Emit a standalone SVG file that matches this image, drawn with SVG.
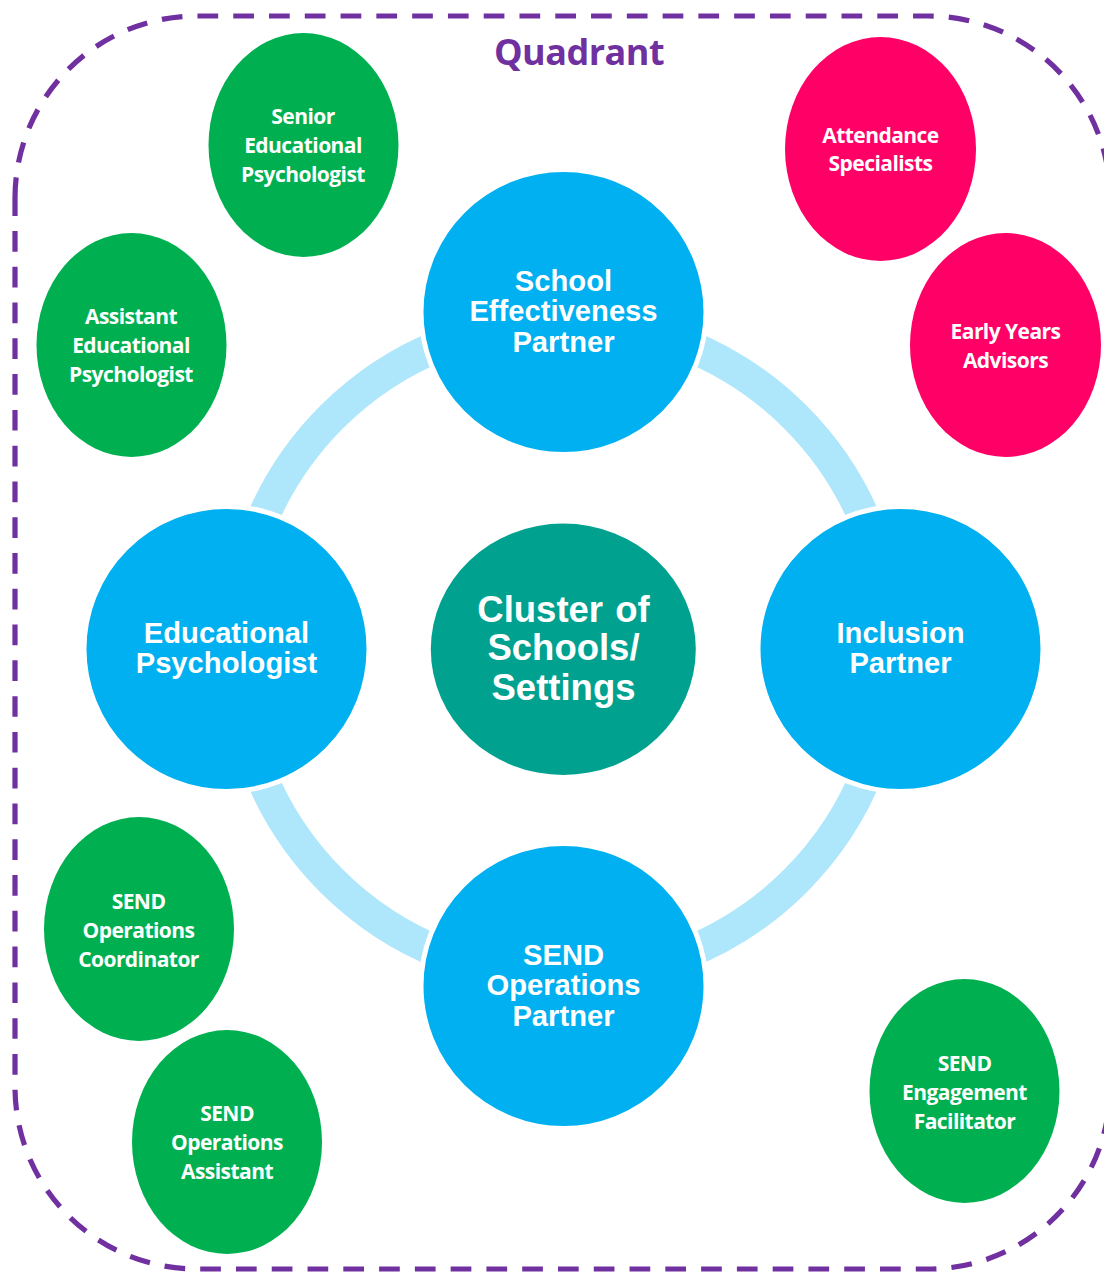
<svg xmlns="http://www.w3.org/2000/svg" width="1104" height="1273" viewBox="0 0 1104 1273">
<style>
.big{fill:#00B0F0;stroke:#fff;stroke-width:5}
.g{fill:#00B050}.p{fill:#FF0066}
text{fill:#fff;text-anchor:middle}
.a{font:700 29.2px "Liberation Sans",Arial,sans-serif}
.c{font:700 36.5px "Liberation Sans",Arial,sans-serif;word-spacing:2px}
.s{font:700 21px "Open Sans","Noto Sans",sans-serif;letter-spacing:-.55px}
</style>
<rect width="1104" height="1273" fill="#fff"/>
<path id="quadrant-frame" d="M15 198A182 182 0 0 1 197 16H928A182 182 0 0 1 1110 198V1087A182 182 0 0 1 928 1269H197A182 182 0 0 1 15 1087Z" fill="none" stroke="#7030A0" stroke-width="5.2" stroke-dasharray="20.7 15.08"/>
<text id="quadrant-title" x="579" y="65" style="font:700 36px 'Open Sans','Noto Sans',sans-serif;fill:#7030A0;letter-spacing:-.5px">Quadrant</text>
<g id="connectors"><circle cx="563.500" cy="649" r="328" fill="none" stroke="#AEE6FB" stroke-width="32"/></g>
<g id="school-effectiveness"><circle class="big" cx="563.500" cy="312" r="142.500"/><text class="a" x="563.500" y="291">School</text><text class="a" x="563.500" y="321">Effectiveness</text><text class="a" x="563.500" y="352">Partner</text></g>
<g id="inclusion"><circle class="big" cx="900.500" cy="649" r="142.500"/><text class="a" x="900.500" y="643">Inclusion</text><text class="a" x="900.500" y="673">Partner</text></g>
<g id="send-ops-partner"><circle class="big" cx="563.500" cy="986" r="142.500"/><text class="a" x="563.500" y="965">SEND</text><text class="a" x="563.500" y="995">Operations</text><text class="a" x="563.500" y="1026">Partner</text></g>
<g id="ed-psych"><circle class="big" cx="226.500" cy="649" r="142.500"/><text class="a" x="226.500" y="643">Educational</text><text class="a" x="226.500" y="673">Psychologist</text></g>
<g id="cluster"><ellipse cx="563.300" cy="649.300" rx="132.500" ry="125.700" fill="#00A28F"/><text class="c" x="563.500" y="622">Cluster of</text><text class="c" x="563.500" y="660">Schools/</text><text class="c" x="563.500" y="700">Settings</text></g>
<g id="senior-ep"><ellipse class="g" cx="303.500" cy="145" rx="95" ry="112"/><text class="s" x="303" y="124">Senior</text><text class="s" x="303" y="153">Educational</text><text class="s" x="303" y="182">Psychologist</text></g>
<g id="assistant-ep"><ellipse class="g" cx="131.500" cy="345" rx="95" ry="112"/><text class="s" x="131" y="324">Assistant</text><text class="s" x="131" y="353">Educational</text><text class="s" x="131" y="382">Psychologist</text></g>
<g id="attendance"><ellipse class="p" cx="880.500" cy="149" rx="95.500" ry="112"/><text class="s" x="880.500" y="143">Attendance</text><text class="s" x="880.500" y="171">Specialists</text></g>
<g id="early-years"><ellipse class="p" cx="1005.500" cy="345" rx="95.500" ry="112"/><text class="s" x="1005.500" y="339">Early Years</text><text class="s" x="1005.500" y="368">Advisors</text></g>
<g id="send-coordinator"><ellipse class="g" cx="139" cy="929" rx="95" ry="112"/><text class="s" x="138.500" y="909">SEND</text><text class="s" x="138.500" y="938">Operations</text><text class="s" x="138.500" y="967">Coordinator</text></g>
<g id="send-assistant"><ellipse class="g" cx="227" cy="1142" rx="95" ry="112"/><text class="s" x="227" y="1121">SEND</text><text class="s" x="227" y="1150">Operations</text><text class="s" x="227" y="1179">Assistant</text></g>
<g id="send-engagement"><ellipse class="g" cx="964.500" cy="1091" rx="95" ry="112"/><text class="s" x="964.500" y="1071">SEND</text><text class="s" x="964.500" y="1100">Engagement</text><text class="s" x="964.500" y="1129">Facilitator</text></g>
</svg>
